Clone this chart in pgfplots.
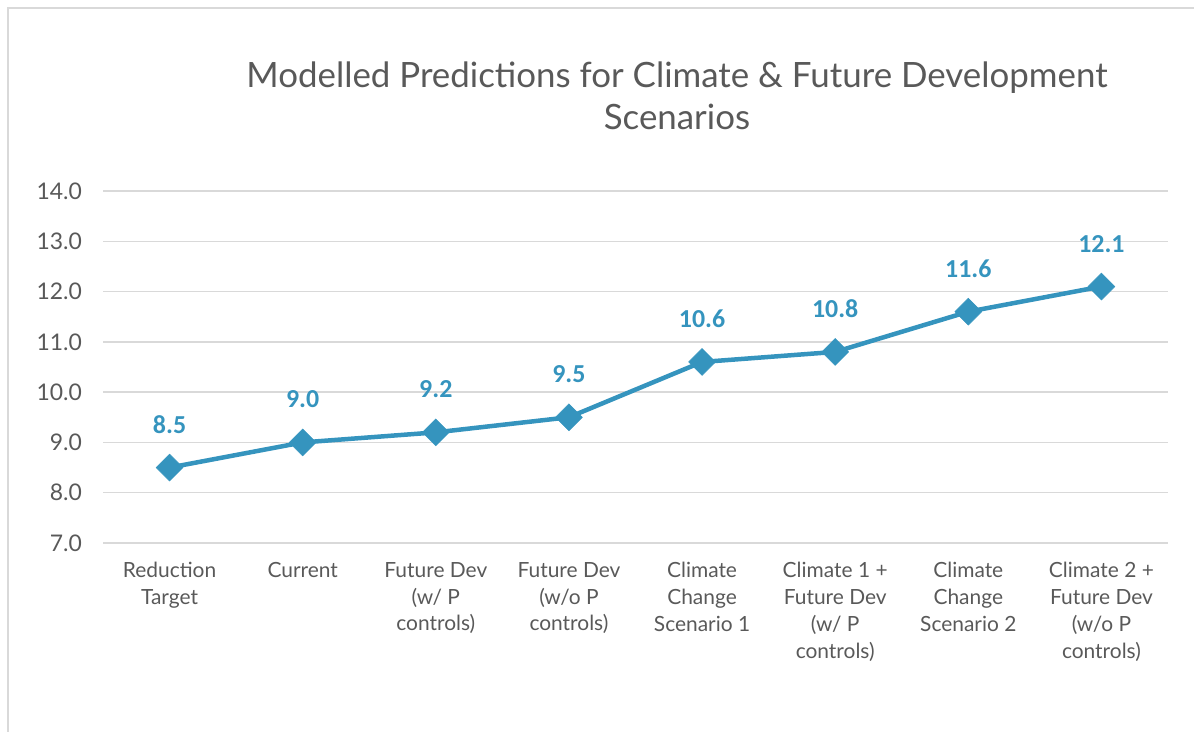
\documentclass[border=0pt]{standalone}
\usepackage{pgfplots}
\pgfplotsset{compat=1.18}
\usepackage{fontspec}
\setmainfont{Lato}
\newfontfamily\lblfont{Carlito}
\definecolor{linec}{HTML}{3594BE}
\definecolor{txtc}{HTML}{595959}
\definecolor{gridc}{HTML}{D9D9D9}
\begin{document}
\begin{tikzpicture}[x=1bp,y=1bp]
\path[use as bounding box] (0,0) rectangle (1194,732);
\draw[gridc,line width=1.5bp] (8,0) -- (8,724) -- (1194,724);
\node[txtc,align=center,font=\fontsize{35}{42}\selectfont] at (677,636) {Modelled Predictions for Climate \& Future Development\\Scenarios};
\begin{axis}[
  at={(103bp,189bp)}, anchor=south west,
  scale only axis, width=1065bp, height=352bp,
  xmin=-0.5, xmax=7.5, ymin=7, ymax=14,
  ytick={7,8,...,14},
  xtick={0,...,7},
  xticklabels={{Reduction\\Target},{Current},{Future Dev\\(w/ P\\controls)},{Future Dev\\(w/o P\\controls)},{Climate\\Change\\Scenario 1},{Climate 1 +\\Future Dev\\(w/ P\\controls)},{Climate\\Change\\Scenario 2},{Climate 2 +\\Future Dev\\(w/o P\\controls)}},
  xticklabel style={align=center, anchor=north, inner sep=0pt, yshift=-19bp, text=txtc, font=\fontsize{21}{27}\selectfont},
  yticklabel style={anchor=east, inner sep=0pt, xshift=-21bp, text=txtc, font=\fontsize{23}{24}\selectfont, /pgf/number format/.cd, fixed, fixed zerofill, precision=1, assume math mode=true},
  axis line style={draw=none},
  major tick length=0pt,
  ymajorgrids, grid style={gridc, line width=1.5bp},
  clip=false,
  nodes near coords,
  every node near coord/.append style={text=linec, inner sep=0pt, yshift=34bp, font=\lblfont\bfseries\fontsize{26}{30}\selectfont, /pgf/number format/.cd, fixed, fixed zerofill, precision=1, assume math mode=true},
]
\addplot[linec, line width=4.5bp, mark=square*, mark size=9.5bp, mark options={rotate=45, fill=linec, draw=linec, line width=0.5bp}] coordinates {
(0,8.5) (1,9.0) (2,9.2) (3,9.5) (4,10.6) (5,10.8) (6,11.6) (7,12.1)
};
\end{axis}
\end{tikzpicture}
\end{document}
